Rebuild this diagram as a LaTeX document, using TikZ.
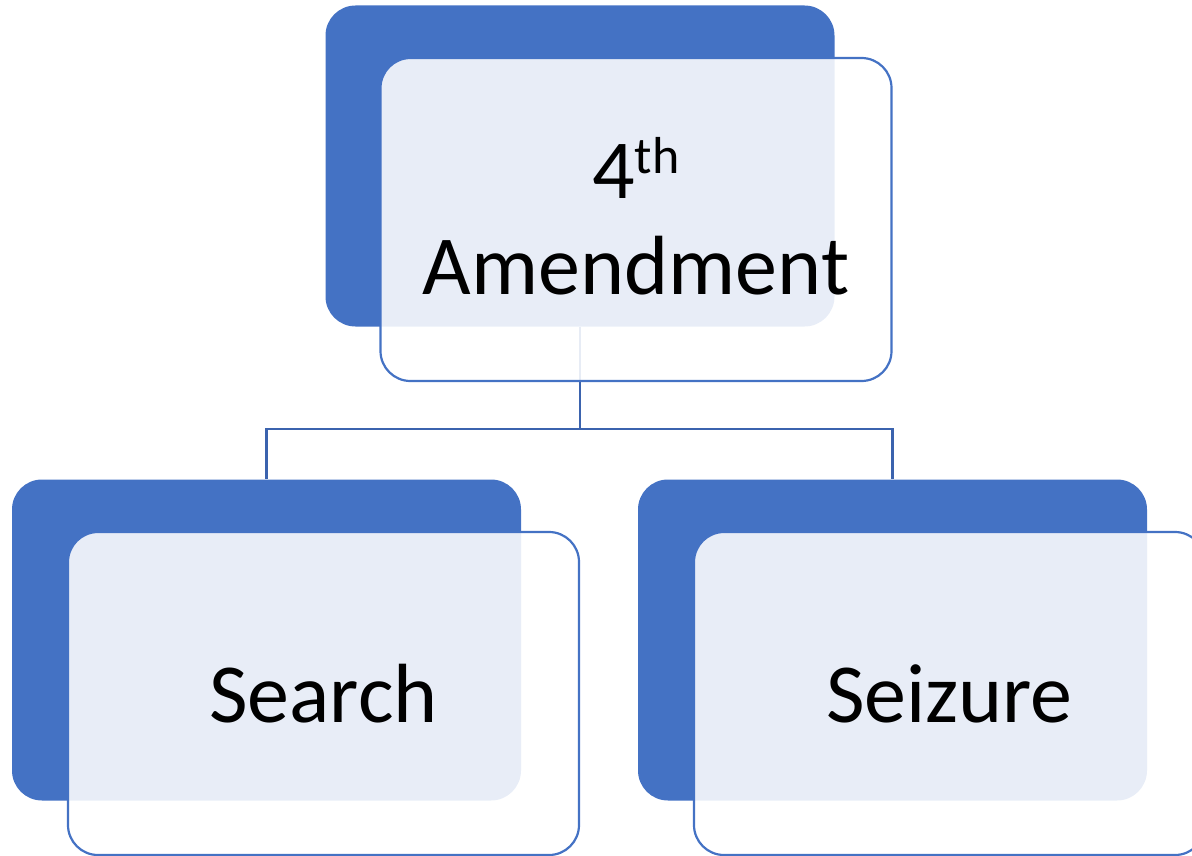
\documentclass[tikz,border=0pt]{standalone}
\usepackage{fontspec}
\setmainfont{Carlito}
\definecolor{accblue}{HTML}{4472C4}
\definecolor{linkblue}{HTML}{3B63AE}
\newcommand{\mysup}[1]{\smash{\raisebox{25pt}{\fontsize{52}{52}\selectfont #1}}}
\begin{document}
\begin{tikzpicture}[x=1pt,y=-1pt,
  backbox/.style={rectangle, rounded corners=30pt, fill=accblue, draw=none, minimum width=509pt, minimum height=321pt, inner sep=0pt},
  frontbox/.style={rectangle, rounded corners=30pt, fill=white, fill opacity=0.88, text opacity=1, draw=accblue, line width=2.2pt, minimum width=511pt, minimum height=323pt, inner sep=0pt, align=center, font=\fontsize{84}{96}\selectfont},
  link/.style={draw=linkblue, line width=2.6pt}]
\useasboundingbox (0,0) rectangle (1192,856);
\clip (0,0) rectangle (1192,856);
\node[backbox] (topback) at (580,166) {};
\node[backbox] (lback) at (266.5,640) {};
\node[backbox] (rback) at (892.5,640) {};
\coordinate (hub) at (580,429);
\draw[link] (topback.south) -- (hub);
\draw[link] (hub) -| (lback.north);
\draw[link] (hub) -| (rback.north);
\node[frontbox] (topfront) at (636,219.5) {4\mysup{th}\\Amendment};
\node[frontbox] (lfront) at (323.5,693.5) {Search};
\node[frontbox] (rfront) at (949.5,693.5) {Seizure};
\end{tikzpicture}
\end{document}
